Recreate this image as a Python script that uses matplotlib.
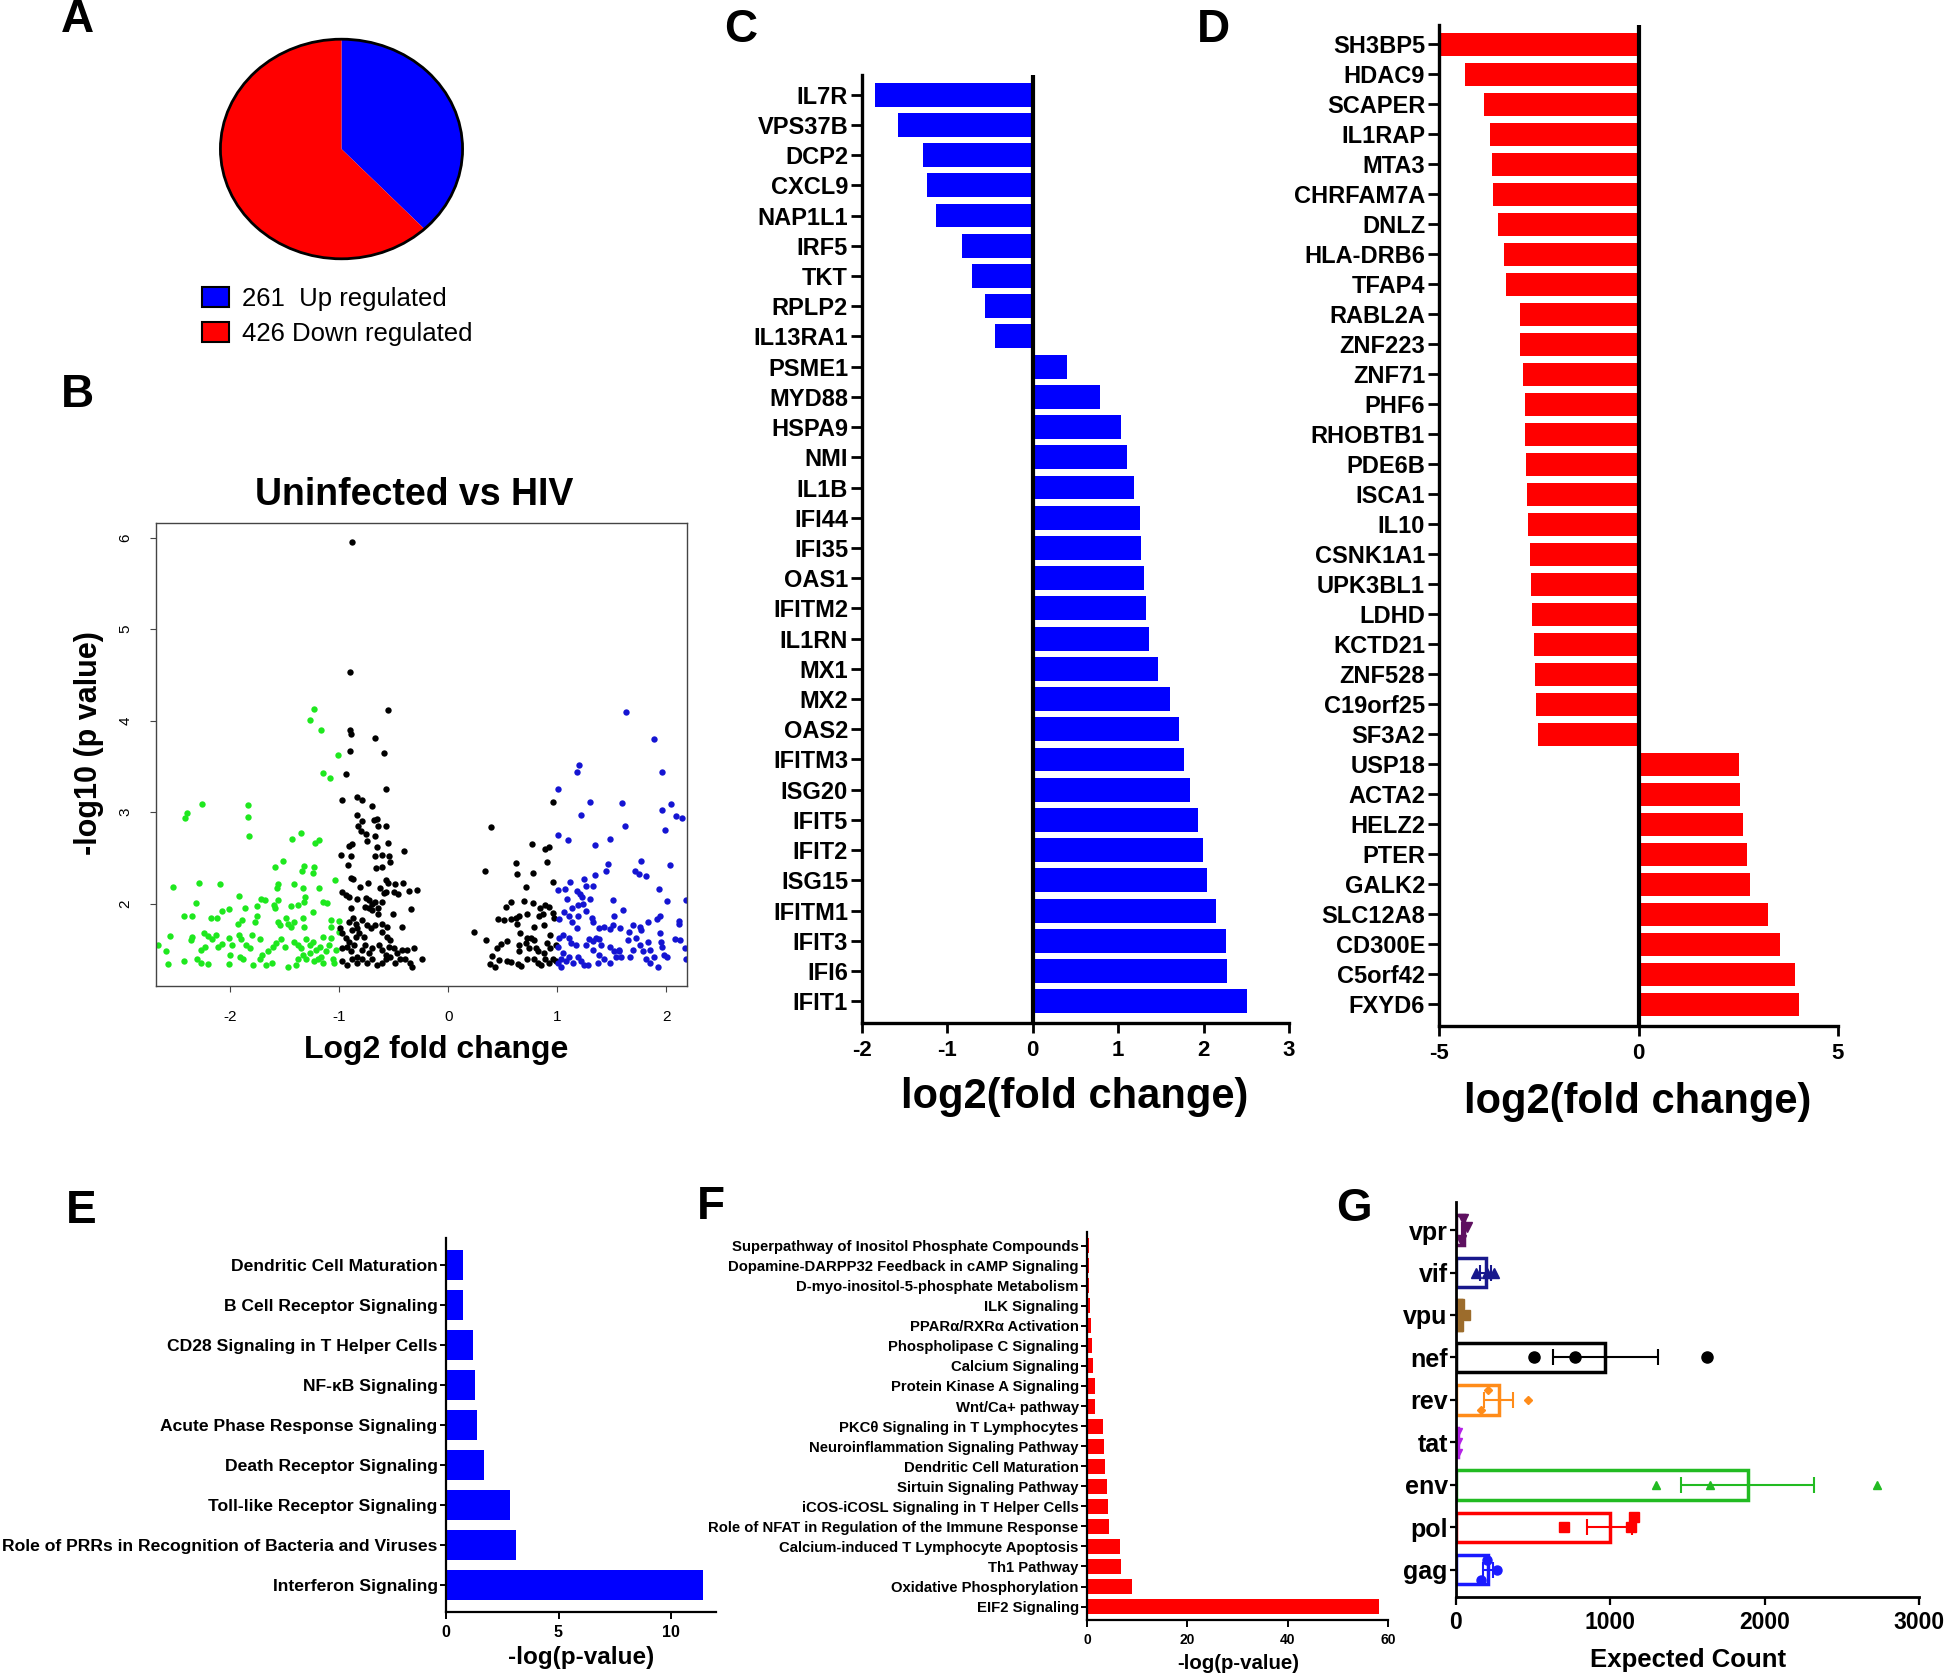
import numpy as np
import matplotlib
matplotlib.use("Agg")
import matplotlib.pyplot as plt
from matplotlib.patches import Patch, Ellipse

plt.rcParams['font.family'] = ['Liberation Sans', 'DejaVu Sans']
plt.rcParams['font.weight'] = 'bold'
plt.rcParams['axes.unicode_minus'] = False

# ---- data ----
pie_counts = [261, 426]
pie_labels = ["261  Up regulated", "426 Down regulated"]

# volcano: (log2 fold change, -log10 p)
green_pts = [
    (-1.233, 4.13), (-1.267, 4.01), (-1.167, 3.90), (-1.015, 3.62), (-1.152, 3.43), (-1.082, 3.37),
    (-2.258, 3.09), (-2.40, 2.99), (-2.41, 2.94), (-1.833, 3.08), (-1.836, 2.95), (-1.824, 2.74),
    (-1.348, 2.77), (-1.433, 2.71), (-1.224, 2.66), (-1.182, 2.70), (-1.515, 2.47), (-1.588, 2.40),
    (-1.327, 2.41), (-1.34, 2.36), (-1.233, 2.40), (-1.242, 2.34), (-2.52, 2.18), (-2.29, 2.23),
    (-2.09, 2.22), (-1.564, 2.21), (-1.57, 2.17), (-1.41, 2.21), (-1.333, 2.17), (-1.182, 2.17),
    (-1.036, 2.26), (-1.918, 2.08), (-1.715, 2.05), (-1.679, 2.04), (-1.558, 2.04), (-1.152, 2.02),
    (-1.115, 2.01), (-1.318, 2.07), (-1.327, 2.02), (-2.315, 2.01), (-2.42, 1.87), (-2.35, 1.86),
    (-2.18, 1.84), (-2.12, 1.84), (-2.076, 1.92), (-2.006, 1.94), (-1.86, 1.95), (-1.752, 1.97),
    (-1.60, 1.98), (-1.588, 1.95), (-1.44, 1.97), (-1.38, 1.99), (-1.93, 1.78), (-1.89, 1.82),
    (-1.752, 1.86), (-1.564, 1.80), (-1.545, 1.77), (-1.49, 1.84), (-1.47, 1.78), (-1.44, 1.75),
    (-1.418, 1.80), (-1.333, 1.84), (-1.327, 1.74), (-1.242, 1.91), (-1.076, 1.82), (-1.006, 1.81),
    (-2.555, 1.65), (-2.66, 1.55), (-2.59, 1.48), (-2.57, 1.34), (-2.42, 1.37), (-2.36, 1.60),
    (-2.35, 1.64), (-2.30, 1.40), (-2.27, 1.35), (-2.24, 1.68), (-2.20, 1.65), (-2.17, 1.61),
    (-2.27, 1.49), (-2.23, 1.53), (-2.206, 1.34), (-2.11, 1.53), (-2.076, 1.56), (-2.015, 1.63),
    (-1.985, 1.55), (-2.006, 1.34), (-2.0, 1.44), (-1.915, 1.66), (-1.903, 1.61), (-1.85, 1.55),
    (-1.82, 1.51), (-1.91, 1.42), (-1.88, 1.39), (-1.79, 1.33), (-1.80, 1.66), (-1.727, 1.61),
    (-1.712, 1.44), (-1.727, 1.40), (-1.667, 1.33), (-1.62, 1.35), (-1.65, 1.48), (-1.606, 1.53),
    (-1.576, 1.57), (-1.53, 1.61), (-1.50, 1.53), (-1.47, 1.31), (-1.394, 1.33), (-1.38, 1.40),
    (-1.41, 1.58), (-1.38, 1.55), (-1.35, 1.51), (-1.30, 1.61), (-1.27, 1.55), (-1.24, 1.58),
    (-1.333, 1.44), (-1.30, 1.40), (-1.27, 1.46), (-1.227, 1.37), (-1.197, 1.40), (-1.167, 1.42),
    (-1.152, 1.35), (-1.212, 1.49), (-1.18, 1.53), (-1.152, 1.64), (-1.12, 1.48), (-1.09, 1.55),
    (-1.06, 1.40), (-1.076, 1.62), (-1.045, 1.35), (-1.03, 1.49), (-1.076, 1.75), (-1.0, 1.69),
    (-1.773, 1.80), (-2.127, 1.66),
]
black_pts = [
    (-0.88, 5.95), (-0.903, 4.53), (-0.552, 4.12), (-0.90, 3.90), (-0.894, 3.85), (-0.667, 3.81),
    (-0.585, 3.65), (-0.903, 3.67), (-0.94, 3.42), (-0.57, 3.25), (-0.97, 3.13), (-0.833, 3.17),
    (-0.788, 3.13), (-0.70, 3.07), (-0.84, 2.97), (-0.824, 2.85), (-0.788, 2.90), (-0.797, 2.79),
    (-0.758, 2.76), (-0.682, 2.91), (-0.652, 2.92), (-0.64, 2.85), (-0.567, 2.85), (-0.742, 2.69),
    (-0.667, 2.74), (-0.55, 2.66), (-0.885, 2.65), (-0.91, 2.63), (-0.985, 2.53), (-0.888, 2.52),
    (-0.652, 2.62), (-0.546, 2.52), (-0.673, 2.52), (-0.606, 2.53), (-0.403, 2.57), (-0.915, 2.42),
    (-0.658, 2.39), (-0.606, 2.40), (-0.53, 2.45), (-0.894, 2.28), (-0.873, 2.27), (-0.812, 2.18),
    (-0.733, 2.23), (-0.57, 2.26), (-0.55, 2.23), (-0.485, 2.21), (-0.418, 2.23), (-0.627, 2.17),
    (-0.57, 2.13), (-0.50, 2.13), (-0.46, 2.11), (-0.288, 2.15), (-0.364, 2.14), (-0.976, 2.13),
    (-0.94, 2.09), (-0.91, 2.07), (-0.833, 2.05), (-0.758, 2.06), (-0.727, 2.04), (-0.697, 2.00),
    (-0.667, 2.02), (-0.606, 2.02), (-0.59, 2.12), (-0.894, 1.95), (-0.76, 1.96), (-0.73, 1.95),
    (-0.70, 1.93), (-0.64, 1.95), (-0.645, 1.89), (-0.506, 1.89), (-0.342, 1.94), (-0.873, 1.84),
    (-0.848, 1.78), (-0.833, 1.73), (-0.788, 1.82), (-0.742, 1.77), (-0.712, 1.73), (-0.667, 1.77),
    (-0.606, 1.78), (-0.56, 1.75), (-0.424, 1.75), (-0.97, 1.68), (-0.94, 1.62), (-0.91, 1.58),
    (-0.99, 1.73), (-0.85, 1.64), (-0.82, 1.68), (-0.773, 1.64), (-0.606, 1.69), (-0.56, 1.64),
    (-0.53, 1.60), (-0.97, 1.51), (-0.924, 1.53), (-0.894, 1.48), (-0.864, 1.55), (-0.833, 1.42),
    (-0.788, 1.49), (-0.76, 1.55), (-0.727, 1.46), (-0.697, 1.51), (-0.636, 1.55), (-0.606, 1.49),
    (-0.57, 1.44), (-0.546, 1.53), (-0.50, 1.51), (-0.47, 1.46), (-0.424, 1.49), (-0.378, 1.49),
    (-0.312, 1.51), (-0.97, 1.37), (-0.924, 1.33), (-0.88, 1.40), (-0.833, 1.35), (-0.788, 1.40),
    (-0.742, 1.35), (-0.697, 1.39), (-0.652, 1.33), (-0.606, 1.35), (-0.57, 1.39), (-0.53, 1.42),
    (-0.485, 1.35), (-0.44, 1.39), (-0.394, 1.40), (-0.35, 1.35), (-0.33, 1.31), (-0.236, 1.40),
    (-0.91, 1.80), (-0.88, 1.71),
    (0.963, 3.11), (0.396, 2.84), (0.764, 2.65), (0.89, 2.60), (0.926, 2.62), (0.62, 2.44),
    (0.905, 2.46), (0.334, 2.36), (0.629, 2.32), (0.782, 2.34), (0.963, 2.24), (0.712, 2.18),
    (0.574, 2.02), (0.696, 2.03), (0.782, 2.01), (0.534, 1.96), (0.84, 1.95), (0.89, 1.98),
    (0.92, 1.96), (0.718, 1.89), (0.834, 1.86), (0.87, 1.89), (0.957, 1.90), (0.46, 1.83),
    (0.512, 1.82), (0.574, 1.83), (0.62, 1.84), (0.65, 1.86), (0.63, 1.78), (0.788, 1.75),
    (0.874, 1.77), (0.972, 1.84), (0.236, 1.69), (0.344, 1.60), (0.66, 1.68), (0.718, 1.62),
    (0.758, 1.63), (0.788, 1.60), (0.65, 1.55), (0.712, 1.57), (0.742, 1.52), (0.65, 1.48),
    (0.804, 1.51), (0.82, 1.48), (0.543, 1.59), (0.48, 1.56), (0.45, 1.51), (0.91, 1.57),
    (0.935, 1.66), (0.988, 1.55), (0.405, 1.43), (0.466, 1.38), (0.543, 1.37), (0.574, 1.36),
    (0.38, 1.34), (0.43, 1.31), (0.644, 1.34), (0.666, 1.32), (0.727, 1.40), (0.788, 1.39),
    (0.82, 1.35), (0.85, 1.33), (0.88, 1.46), (0.89, 1.40), (0.926, 1.35), (0.957, 1.39),
    (0.988, 1.37), (0.93, 1.51),
]
blue_pts = [
    (1.626, 4.09), (1.887, 3.80), (1.963, 3.44), (1.196, 3.52), (1.178, 3.44), (1.003, 3.25),
    (1.30, 3.11), (1.595, 3.10), (2.04, 3.09), (1.963, 3.02), (2.09, 2.96), (2.144, 2.94),
    (1.218, 2.97), (1.62, 2.85), (1.985, 2.81), (1.01, 2.75), (1.10, 2.70), (1.488, 2.71),
    (1.35, 2.64), (1.463, 2.43), (1.45, 2.36), (1.764, 2.47), (1.709, 2.36), (1.748, 2.32),
    (1.81, 2.30), (2.03, 2.42), (1.35, 2.31), (1.245, 2.27), (1.117, 2.24), (1.01, 2.15),
    (1.07, 2.16), (1.18, 2.14), (1.21, 2.11), (1.227, 2.07), (1.264, 2.19), (1.325, 2.19),
    (1.93, 2.16), (1.086, 2.05), (1.30, 2.05), (1.51, 2.04), (2.01, 2.03), (2.18, 2.04),
    (1.135, 1.95), (1.187, 1.98), (1.233, 2.00), (1.018, 1.83), (1.064, 1.91), (1.104, 1.86),
    (1.187, 1.86), (1.264, 1.92), (1.316, 1.84), (1.325, 1.80), (1.525, 1.86), (1.607, 1.93),
    (1.178, 1.73), (1.135, 1.80), (1.387, 1.73), (1.433, 1.74), (1.485, 1.72), (1.51, 1.77),
    (1.58, 1.73), (1.656, 1.69), (1.693, 1.77), (1.755, 1.75), (1.767, 1.71), (1.83, 1.80),
    (1.913, 1.83), (1.939, 1.87), (2.117, 1.81), (2.12, 1.78), (1.018, 1.62), (1.05, 1.66),
    (1.003, 1.53), (1.104, 1.62), (1.126, 1.57), (1.17, 1.55), (1.264, 1.55), (1.294, 1.61),
    (1.325, 1.59), (1.356, 1.62), (1.387, 1.61), (1.40, 1.55), (1.325, 1.49), (1.387, 1.44),
    (1.48, 1.53), (1.525, 1.48), (1.57, 1.49), (1.586, 1.42), (1.647, 1.60), (1.724, 1.62),
    (1.755, 1.55), (1.83, 1.58), (1.847, 1.49), (1.939, 1.68), (1.954, 1.58), (1.963, 1.53),
    (2.08, 1.61), (2.13, 1.60), (1.05, 1.46), (1.034, 1.40), (1.08, 1.37), (1.11, 1.42),
    (1.14, 1.35), (1.187, 1.42), (1.218, 1.37), (1.248, 1.33), (1.28, 1.33), (1.37, 1.35),
    (1.433, 1.39), (1.48, 1.35), (1.54, 1.42), (1.564, 1.48), (1.663, 1.42), (1.693, 1.49),
    (1.785, 1.48), (1.816, 1.40), (1.847, 1.35), (1.89, 1.42), (1.92, 1.31), (1.98, 1.44),
    (2.006, 1.42), (2.175, 1.51), (2.178, 1.39), (1.003, 1.35), (1.034, 1.31),
]

c_genes = ["IL7R", "VPS37B", "DCP2", "CXCL9", "NAP1L1", "IRF5", "TKT", "RPLP2", "IL13RA1",
           "PSME1", "MYD88", "HSPA9", "NMI", "IL1B", "IFI44", "IFI35", "OAS1", "IFITM2",
           "IL1RN", "MX1", "MX2", "OAS2", "IFITM3", "ISG20", "IFIT5", "IFIT2", "ISG15",
           "IFITM1", "IFIT3", "IFI6", "IFIT1"]
c_fc = [-1.85, -1.58, -1.29, -1.24, -1.13, -0.83, -0.71, -0.56, -0.44,
        0.40, 0.79, 1.03, 1.10, 1.18, 1.26, 1.27, 1.30, 1.33,
        1.36, 1.47, 1.61, 1.71, 1.77, 1.84, 1.94, 1.99, 2.04,
        2.14, 2.26, 2.27, 2.51]

d_genes = ["SH3BP5", "HDAC9", "SCAPER", "IL1RAP", "MTA3", "CHRFAM7A", "DNLZ", "HLA-DRB6",
           "TFAP4", "RABL2A", "ZNF223", "ZNF71", "PHF6", "RHOBTB1", "PDE6B", "ISCA1", "IL10",
           "CSNK1A1", "UPK3BL1", "LDHD", "KCTD21", "ZNF528", "C19orf25", "SF3A2", "USP18",
           "ACTA2", "HELZ2", "PTER", "GALK2", "SLC12A8", "CD300E", "C5orf42", "FXYD6"]
d_fc = [-4.98, -4.36, -3.88, -3.73, -3.66, -3.64, -3.52, -3.36,
        -3.32, -2.98, -2.97, -2.89, -2.85, -2.85, -2.82, -2.80, -2.77,
        -2.72, -2.70, -2.66, -2.61, -2.59, -2.56, -2.52, 2.53,
        2.54, 2.62, 2.72, 2.79, 3.25, 3.54, 3.93, 4.02]

e_paths = ["Dendritic Cell Maturation", "B Cell Receptor Signaling",
           "CD28 Signaling in T Helper Cells", "NF-\u03baB Signaling",
           "Acute Phase Response Signaling", "Death Receptor Signaling",
           "Toll-like Receptor Signaling",
           "Role of PRRs in Recognition of Bacteria and Viruses", "Interferon Signaling"]
e_logp = [0.75, 0.77, 1.22, 1.30, 1.38, 1.71, 2.83, 3.10, 11.43]

f_paths = ["Superpathway of Inositol Phosphate Compounds",
           "Dopamine-DARPP32 Feedback in cAMP Signaling",
           "D-myo-inositol-5-phosphate Metabolism", "ILK Signaling",
           "PPAR\u03b1/RXR\u03b1 Activation", "Phospholipase C Signaling", "Calcium Signaling",
           "Protein Kinase A Signaling", "Wnt/Ca+ pathway", "PKC\u03b8 Signaling in T Lymphocytes",
           "Neuroinflammation Signaling Pathway", "Dendritic Cell Maturation",
           "Sirtuin Signaling Pathway", "iCOS-iCOSL Signaling in T Helper Cells",
           "Role of NFAT in Regulation of the Immune Response",
           "Calcium-induced T Lymphocyte Apoptosis", "Th1 Pathway",
           "Oxidative Phosphorylation", "EIF2 Signaling"]
f_logp = [0.35, 0.45, 0.45, 0.55, 0.7, 0.9, 1.1, 1.5, 1.6, 3.2, 3.3, 3.6, 4.0, 4.1, 4.45,
          6.5, 6.7, 8.9, 58.2]

hiv_genes = ["vpr", "vif", "vpu", "nef", "rev", "tat", "env", "pol", "gag"]
hiv_counts = [
    [47, 69, 30],
    [130, 200, 245],
    [22, 58, 15],
    [507, 770, 1627],
    [209, 160, 464],
    [12, 16, 10],
    [1299, 1645, 2728],
    [701, 1131, 1153],
    [201, 160, 263],
]

# ---- layout helpers (pixel boxes) ----
W, H = 1946, 1676
fig = plt.figure(figsize=(W / 100, H / 100), dpi=100)


def box(x0, y0, x1, y1):
    return [x0 / W, 1 - y1 / H, (x1 - x0) / W, (y1 - y0) / H]


def ftext(x, y, s, **kw):
    fig.text(x / W, 1 - y / H, s, ha='center', va='center', **kw)


for lab, (x, y) in zip("ABCDEFG", [(77, 20), (77, 395), (741, 30), (1213, 30),
                                   (81, 1211), (711, 1207), (1354, 1209)]):
    ftext(x, y, lab, fontsize=33, fontweight='bold')

# ---- A: pie ----
ax = fig.add_axes(box(218, 37, 465, 261))
ax.pie(pie_counts, colors=['#0000ff', '#ff0000'], startangle=90, counterclock=False,
       radius=1, wedgeprops=dict(linewidth=0))
ax.add_patch(Ellipse((0, 0), 2, 2, fill=False, lw=2, ec='black'))
ax.set_aspect('auto')
ax.set_xlim(-1.02, 1.02)
ax.set_ylim(-1.02, 1.02)
handles = [Patch(facecolor=c, edgecolor='black', linewidth=1.5) for c in ['#0000ff', '#ff0000']]
fig.legend(handles, pie_labels, loc='upper left', bbox_to_anchor=(202 / W, 1 - 287 / H),
           frameon=False, prop=dict(size=18.5, weight='normal'), handlelength=1.05,
           handleheight=0.8, handletextpad=0.5, labelspacing=0.42, borderpad=0,
           borderaxespad=0)

# ---- B: volcano ----
ax = fig.add_axes(box(156, 523, 687, 986))
for pts, col in [(green_pts, '#1ee81e'), (black_pts, 'black'), (blue_pts, '#1414d2')]:
    arr = np.array(pts)
    ax.scatter(arr[:, 0], arr[:, 1], s=21, color=col, linewidths=0)
ax.set_xlim(-2.68, 2.19)
ax.set_ylim(1.10, 6.16)
ax.set_xticks([-2, -1, 0, 1, 2])
ax.set_yticks([2, 3, 4, 5, 6])
for sp in ax.spines.values():
    sp.set_color('#444444')
    sp.set_linewidth(1)
ax.tick_params(labelsize=11, length=4, width=0.8, color='#444444', pad=13)
for lbl in ax.get_xticklabels() + ax.get_yticklabels():
    lbl.set_fontweight('normal')
ax.tick_params(axis='y', labelrotation=90)
for lbl in ax.get_yticklabels():
    lbl.set_va('center')
ftext(414, 495, "Uninfected vs HIV", fontsize=27, fontweight='bold')
ftext(436, 1050, "Log2 fold change", fontsize=23, fontweight='bold')
ftext(89, 743, "-log10 (p value)", fontsize=22, fontweight='bold', rotation=90)


# ---- C / D: fold change bars ----
def fc_panel(rect, genes, vals, color, xlim, xticks, xlab_pos):
    ax = fig.add_axes(rect)
    n = len(genes)
    ax.barh(np.arange(n), vals, height=0.79, color=color, edgecolor='none')
    ax.axvline(0, color='black', lw=3)
    ax.set_xlim(*xlim)
    ax.set_ylim(n - 1 + 0.72, -0.65)
    ax.set_yticks(np.arange(n))
    ax.set_yticklabels(genes, fontsize=17, fontweight='bold')
    ax.set_xticks(xticks)
    for s in ['top', 'right']:
        ax.spines[s].set_visible(False)
    for s in ['left', 'bottom']:
        ax.spines[s].set_linewidth(2.4)
    ax.tick_params(axis='y', length=8, width=2, pad=2)
    ax.tick_params(axis='x', length=7, width=2, pad=5, labelsize=16)
    ftext(xlab_pos[0], xlab_pos[1], "log2(fold change)", fontsize=30, fontweight='bold')
    return ax


fc_panel(box(862, 75, 1289, 1023), c_genes, c_fc, '#0000ff', (-2, 3), range(-2, 4), (1075, 1097))
fc_panel(box(1439, 25, 1838, 1026), d_genes, d_fc, '#ff0000', (-5, 5), [-5, 0, 5], (1638, 1102))


# ---- E / F: pathway bars ----
def path_panel(rect, names, vals, color, xlim, xticks, lab_size, tick_size, xlab_pos, xlab_size):
    ax = fig.add_axes(rect)
    n = len(names)
    ax.barh(np.arange(n), vals, height=0.75, color=color, edgecolor='none')
    ax.set_xlim(*xlim)
    ax.set_ylim(n - 1 + 0.67, -0.68)
    ax.set_yticks(np.arange(n))
    ax.set_yticklabels(names, fontsize=lab_size, fontweight='bold')
    ax.set_xticks(xticks)
    for s in ['top', 'right']:
        ax.spines[s].set_visible(False)
    for s in ['left', 'bottom']:
        ax.spines[s].set_linewidth(1.6)
    ax.tick_params(axis='y', length=4, width=1.4, pad=2)
    ax.tick_params(axis='x', length=5, width=1.4, pad=4, labelsize=tick_size)
    ftext(xlab_pos[0], xlab_pos[1], "-log(p-value)", fontsize=xlab_size, fontweight='bold')
    return ax


path_panel(box(446, 1238, 716, 1612), e_paths, e_logp, '#0000ff', (0, 12), [0, 5, 10],
           12.6, 11.5, (581, 1657), 17.5)
path_panel(box(1087, 1232, 1388, 1620), f_paths, f_logp, '#ff0000', (0, 60), [0, 20, 40, 60],
           10.7, 10, (1238, 1663), 14.7)

# ---- G: HIV gene expected counts ----
ax = fig.add_axes(box(1456, 1202, 1919, 1597))
g_colors = ['#5e1060', '#18188c', '#9c6c2c', '#000000', '#ff8c1a', '#b422e6', '#22bb22',
            '#ff0000', '#1a1aff']
g_markers = ['v', '^', 's', 'o', 'D', 'v', '^', 's', 'o']
g_msize = [7, 7, 7, 8, 4.5, 6, 5.5, 6.5, 6.5]
g_jitter = [[0.25, 0.08, -0.24], [0, 0, 0], [0.27, 0, -0.27], [0, 0, 0], [0.23, -0.23, 0],
            [0.25, 0, -0.26], [0, 0, 0], [0, 0, 0.24], [0.24, -0.23, 0]]
for i, (vals, col) in enumerate(zip(hiv_counts, g_colors)):
    vals = np.array(vals, dtype=float)
    m = vals.mean()
    sem = vals.std(ddof=1) / np.sqrt(len(vals))
    ax.barh(i, m, height=0.69, fill=False, edgecolor=col, linewidth=2.5)
    ax.errorbar(m, i, xerr=sem, color=col, capsize=6, capthick=1.5, elinewidth=1.5)
    ax.plot(vals, i - np.array(g_jitter[i]), linestyle='none', marker=g_markers[i],
            markersize=g_msize[i], color=col)
ax.set_xlim(0, 3000)
ax.set_ylim(len(hiv_genes) - 1 + 0.64, -0.66)
ax.set_yticks(np.arange(len(hiv_genes)))
ax.set_yticklabels(hiv_genes, fontsize=18, fontweight='bold')
ax.set_xticks([0, 1000, 2000, 3000])
for s in ['top', 'right']:
    ax.spines[s].set_visible(False)
for s in ['left', 'bottom']:
    ax.spines[s].set_linewidth(2)
ax.tick_params(axis='y', length=4, width=1.6, pad=2)
ax.tick_params(axis='x', length=6, width=1.6, pad=4, labelsize=16.5)
ftext(1688, 1660, "Expected Count", fontsize=18.5, fontweight='bold')

fig.savefig("out.png", dpi=100)
